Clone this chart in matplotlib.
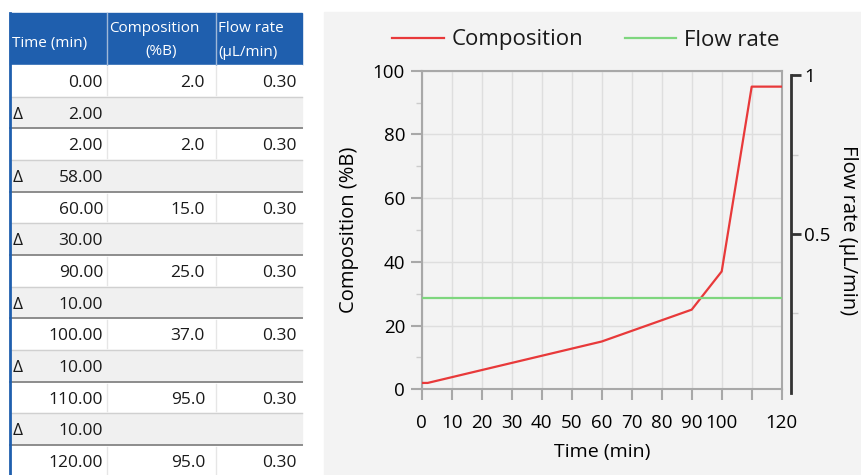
import numpy as np
import matplotlib.pyplot as plt
from matplotlib.patches import Rectangle
from matplotlib.ticker import MultipleLocator, FixedLocator

# gradient table values
times = [0.0, 2.0, 60.0, 90.0, 100.0, 110.0, 120.0]
composition = [2.0, 2.0, 15.0, 25.0, 37.0, 95.0, 95.0]
flow_rate = [0.30, 0.30, 0.30, 0.30, 0.30, 0.30, 0.30]
deltas = [2.0, 58.0, 30.0, 10.0, 10.0, 10.0]

headers = [["Time (min)"], ["Composition", "(%B)"], ["Flow rate", "(µL/min)"]]
x_ticks = [0, 10, 20, 30, 40, 50, 60, 70, 80, 90, 100, 110, 120]
x_tick_labels = ["0", "10", "20", "30", "40", "50", "60", "70", "80", "90", "100", "", "120"]

W, H = 861, 475
plt.rcParams['font.family'] = ['Open Sans', 'DejaVu Sans']
plt.rcParams['text.color'] = '#1a1a1a'
fig = plt.figure(figsize=(W / 100, H / 100), dpi=100)
fig.patch.set_facecolor('white')

# ---- table on the left (pixel coords, y from top) ----
tab = fig.add_axes([0, 0, 1, 1])
tab.set_xlim(0, W)
tab.set_ylim(H, 0)
tab.axis('off')

blue = '#1f5fae'
col_edges = [10, 107, 216, 302]
head_top, head_bot = 13, 65
row_h = 31.67

tab.add_patch(Rectangle((col_edges[0], head_top), col_edges[-1] - col_edges[0],
                        head_bot - head_top, color=blue, zorder=1))
for xe in col_edges[1:-1]:
    tab.plot([xe, xe], [head_top, head_bot], color='#9fb8d8', lw=1, zorder=2)
hfs = 11
tab.text(col_edges[0] + 2, 43, headers[0][0], color='white', fontsize=hfs, ha='left', va='center')
tab.text(col_edges[1] + 2, 28, headers[1][0], color='white', fontsize=hfs, ha='left', va='center')
tab.text((col_edges[1] + col_edges[2]) / 2, 52, headers[1][1], color='white', fontsize=hfs,
         ha='center', va='center')
tab.text(col_edges[2] + 2, 28, headers[2][0], color='white', fontsize=hfs, ha='left', va='center')
tab.text(col_edges[2] + 2, 52, headers[2][1], color='white', fontsize=hfs, ha='left', va='center')

rows = []
for i in range(len(times)):
    rows.append(('data', i))
    if i < len(deltas):
        rows.append(('delta', i))

tfs = 12.5
for k, (kind, i) in enumerate(rows):
    y0 = head_bot + k * row_h
    yc = y0 + row_h / 2 + 2
    face = 'white' if kind == 'data' else '#f0f0f0'
    tab.add_patch(Rectangle((col_edges[0], y0), col_edges[-1] - col_edges[0], row_h,
                            color=face, zorder=1))
    if kind == 'data':
        if k > 0:
            tab.plot([col_edges[0], col_edges[-1]], [y0, y0], color='#8c8c8c', lw=1.4, zorder=3)
        for xe in col_edges[1:-1]:
            tab.plot([xe, xe], [y0 + 2, y0 + row_h - 2], color='#e6e6e6', lw=1, zorder=2)
        tab.text(col_edges[1] - 4, yc, f"{times[i]:.2f}", fontsize=tfs, ha='right', va='center', zorder=4)
        tab.text(col_edges[2] - 11, yc, f"{composition[i]:.1f}", fontsize=tfs, ha='right', va='center', zorder=4)
        tab.text(col_edges[3] - 5, yc, f"{flow_rate[i]:.2f}", fontsize=tfs, ha='right', va='center', zorder=4)
    else:
        tab.plot([col_edges[0], col_edges[-1]], [y0, y0], color='#d0d0d0', lw=1, zorder=3)
        tab.text(col_edges[0] + 3, yc, "Δ", fontsize=12.5, ha='left', va='center', zorder=4)
        tab.text(col_edges[1] - 4, yc, f"{deltas[i]:.2f}", fontsize=tfs, ha='right', va='center', zorder=4)
tab.plot([col_edges[0], col_edges[0]], [head_top, H], color=blue, lw=2, zorder=5)

# chart panel background
tab.add_patch(Rectangle((324, 12), W - 324, H - 12, color='#f3f3f3', zorder=0))

# ---- chart ----
ax_l, ax_r, ax_t, ax_b = 421.7, 781.7, 70.7, 389.3
ax = fig.add_axes([ax_l / W, (H - ax_b) / H, (ax_r - ax_l) / W, (ax_b - ax_t) / H])
ax.set_facecolor('#f3f3f3')
grey = '#a8a8a8'

ax.plot(times, composition, color='#e8393a', lw=1.6, zorder=3, label='Composition')
ax.set_xlim(0, 120)
ax.set_ylim(0, 100)
ax.xaxis.set_major_locator(FixedLocator(x_ticks))
ax.set_xticklabels(x_tick_labels)
ax.yaxis.set_major_locator(MultipleLocator(20))
ax.yaxis.set_minor_locator(MultipleLocator(10))
ax.grid(True, which='major', color='#dedede', lw=1)
for s in ax.spines.values():
    s.set_color(grey)
    s.set_linewidth(1.5)
ax.tick_params(which='major', length=8, width=1.5, color=grey, labelsize=13.5)
ax.tick_params(axis='x', which='major', pad=10)
ax.tick_params(axis='y', which='major', pad=4)
ax.tick_params(which='minor', length=4, width=1, color='#cccccc')
ax.set_xlabel("Time (min)", fontsize=14, labelpad=8)
ax.set_ylabel("Composition (%B)", fontsize=14.5, labelpad=10)

ax2 = ax.twinx()
ax2.plot(times, flow_rate, color='#7ed67e', lw=1.6, zorder=3, label='Flow rate')
ax2.set_ylim(0.0116, 1.0136)
for side in ['top', 'left', 'bottom']:
    ax2.spines[side].set_visible(False)
ax2.spines['right'].set_position(('outward', 7))
ax2.spines['right'].set_bounds(0, 1)
ax2.spines['right'].set_color('#333333')
ax2.spines['right'].set_linewidth(2)
ax2.yaxis.set_major_locator(FixedLocator([0, 0.5, 1]))
ax2.set_yticklabels(["0", "0.5", "1"])
ax2.yaxis.set_minor_locator(FixedLocator([0.25, 0.75]))
ax2.tick_params(which='major', length=7, width=2, color='#333333', labelsize=13.5, pad=2)
ax2.tick_params(which='minor', length=5, width=1, color='#cccccc')
ax2.set_ylabel("Flow rate (µL/min)", fontsize=14.5, rotation=-90, labelpad=20)

h1, l1 = ax.get_legend_handles_labels()
h2, l2 = ax2.get_legend_handles_labels()
fig.legend(h1 + h2, l1 + l2, loc='center', bbox_to_anchor=(586 / W, 1 - 40 / H),
           ncol=2, frameon=False, fontsize=16, handlelength=2.3, columnspacing=1.9,
           handletextpad=0.35)

fig.savefig("out.png", dpi=100)
